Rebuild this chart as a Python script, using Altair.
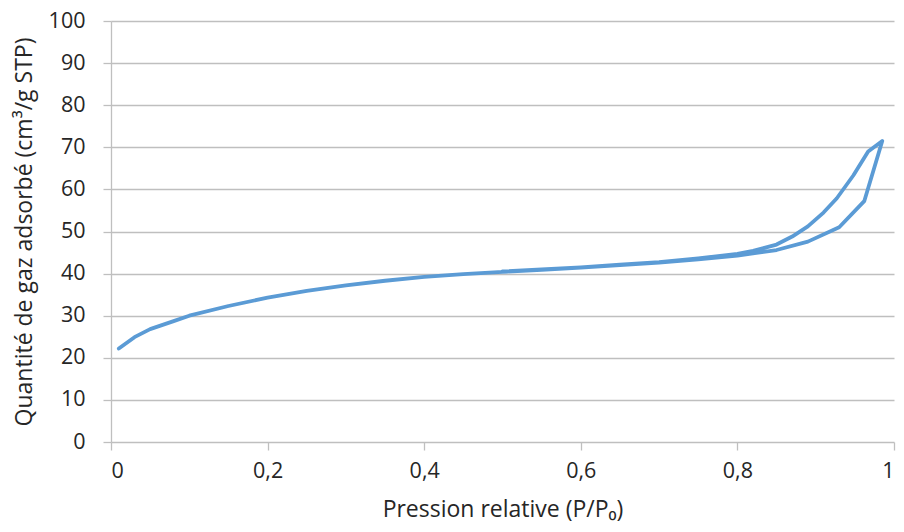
import altair as alt
import pandas as pd

# Adsorption branch (P/P0, volume)
ads_p = [0.01, 0.03, 0.05, 0.08, 0.10, 0.15, 0.20, 0.25, 0.30, 0.35, 0.40, 0.45,
         0.50, 0.55, 0.60, 0.65, 0.70, 0.75, 0.80, 0.85, 0.89, 0.93, 0.962, 0.985]
ads_v = [22.2, 24.9, 26.8, 28.7, 30.0, 32.3, 34.3, 35.9, 37.2, 38.3, 39.2, 39.9,
         40.4, 40.9, 41.4, 42.0, 42.6, 43.4, 44.3, 45.6, 47.6, 51.0, 57.2, 71.5]
# Desorption branch
des_p = [0.985, 0.967, 0.948, 0.927, 0.91, 0.89, 0.87, 0.85, 0.82, 0.80, 0.75,
         0.70, 0.65, 0.60, 0.55, 0.50]
des_v = [71.5, 69.0, 63.3, 57.9, 54.5, 51.2, 48.8, 46.9, 45.4, 44.7, 43.6,
         42.7, 42.1, 41.5, 41.0, 40.5]

x_ticks = [0, 0.2, 0.4, 0.6, 0.8, 1]
y_ticks = [0, 10, 20, 30, 40, 50, 60, 70, 80, 90, 100]

p = ads_p + des_p
v = ads_v + des_v
df = pd.DataFrame({"p": p, "v": v, "i": list(range(len(p)))})

FONT = "Open Sans"
GRID = "#BFBFBF"

chart = alt.Chart(df).mark_line(color="#5B9BD5", strokeWidth=3.8, strokeJoin="round",
                                strokeCap="round").encode(
    x=alt.X("p:Q",
            scale=alt.Scale(domain=[0, 1], nice=False, zero=False),
            axis=alt.Axis(values=x_ticks, grid=False,
                          title="Pression relative (P/P₀)",
                          labelExpr="replace(toString(datum.value), '.', ',')",
                          domain=False, ticks=True, tickSize=8, tickColor=GRID,
                          labelPadding=10, titlePadding=17)),
    y=alt.Y("v:Q",
            scale=alt.Scale(domain=[0, 100], nice=False),
            axis=alt.Axis(values=y_ticks, grid=True, gridColor=GRID,
                          title="Quantité de gaz adsorbé (cm³/g STP)",
                          domain=True, domainColor=GRID, ticks=True, tickSize=8,
                          tickColor=GRID, labelPadding=18, titlePadding=12)),
    order="i:Q",
).properties(
    width=783, height=421,
    autosize=alt.AutoSizeParams(type="none"),
    padding={"left": 103, "top": 13, "right": 2, "bottom": 82},
).configure_view(stroke=None).configure_axis(
    labelFont=FONT, titleFont=FONT, labelFontSize=21.5, titleFontSize=23,
    labelColor="#262626", titleColor="#262626", titleFontWeight="normal",
    gridWidth=1.3, domainWidth=1.3, tickWidth=1.3,
)

chart.save("out.html", embed_options={"renderer": "svg", "actions": False})
